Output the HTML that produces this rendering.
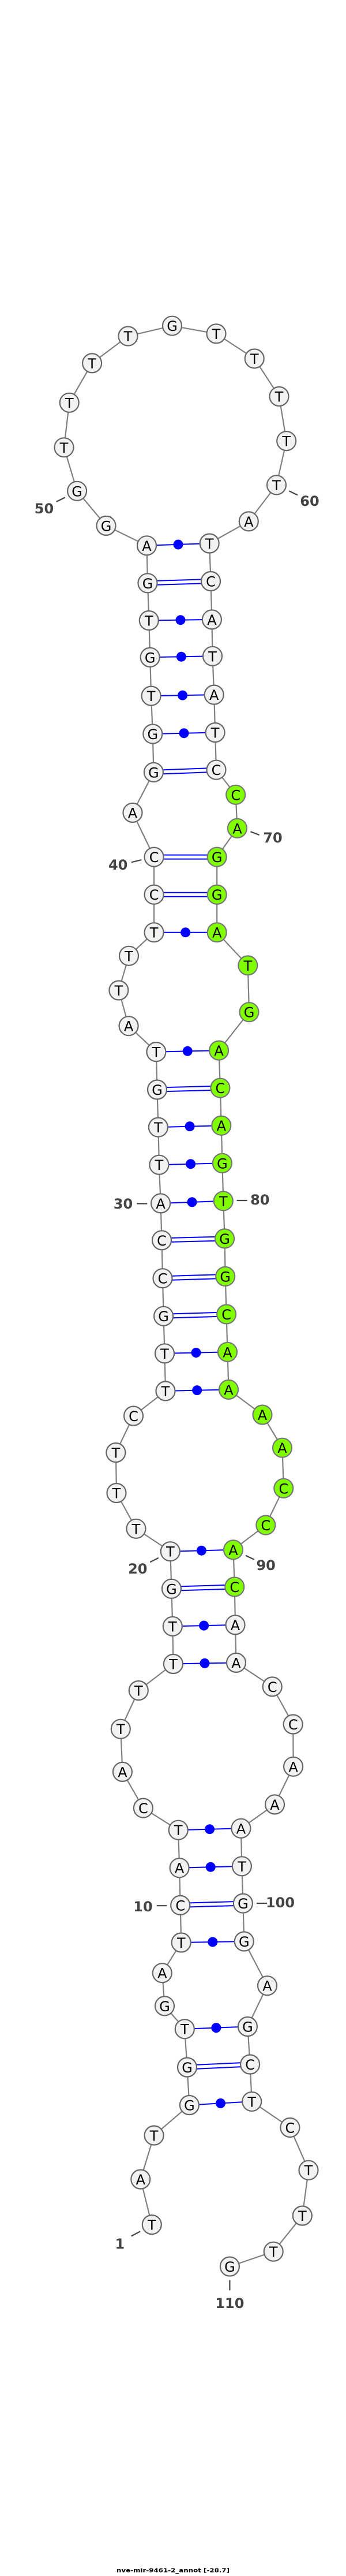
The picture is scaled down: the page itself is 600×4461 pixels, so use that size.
<!DOCTYPE html>
<html><head><meta charset="utf-8"><style>
html,body{margin:0;padding:0;background:#fff;}
svg{display:block;}
.n circle{fill:#f2f2f2;stroke:#666;stroke-width:2.2;}
.g circle{fill:#7fff00;stroke:#777;stroke-width:2.2;}
text.l{font-family:"DejaVu Sans","Liberation Sans",sans-serif;font-size:24px;text-anchor:middle;dominant-baseline:central;fill:#000;}
text.num{font-family:"DejaVu Sans","Liberation Sans",sans-serif;font-size:24px;font-weight:bold;text-anchor:middle;dominant-baseline:central;fill:#444;}
.bp{stroke:#0000ff;stroke-width:2;}
.tk{stroke:#444;stroke-width:2.2;}
</style></head><body>
<svg width="600" height="4461" viewBox="0 0 600 4461" xmlns="http://www.w3.org/2000/svg">
<polyline fill="none" stroke="#808080" stroke-width="2.2" points="263.3,3852.5 243.8,3774 267.1,3698 328.4,3645.5 324.5,3580 320.3,3513.7 285.5,3473.9 281.3,3416.7 314.2,3364 312.7,3299.4 311.1,3234.7 309.2,3169.2 248.4,3131.1 212.4,3068.4 209.3,2994.2 240.3,2927.5 300.4,2881.5 299.3,2816.4 297.4,2751.3 295.3,2686.7 236,2647.3 202,2585.5 200.9,2515.5 231.5,2452 287,2408.9 285.5,2343.8 283.6,2279.2 282,2213.7 280.5,2147.8 278.6,2083.9 275.9,2017.2 274.4,1952.1 272.5,1887 270.9,1821.6 223.1,1776.7 205.9,1715 223.5,1655.3 267.1,1614.7 267.1,1549.2 267.1,1484.1 230,1407.4 266.4,1337.4 264.8,1271 262.1,1205.1 260.2,1138.3 258.3,1074.5 256,1009.8 254.5,944.8 184,910.4 133.6,850.3 111,774.8 120.2,697.3 159.6,628.9 222,582.1 298.5,564.2 375,577.9 441.2,621 484,686.5 496.7,763.6 479.5,839.9 431.3,902.9 363.2,941 365.5,1006.5 367.4,1072.9 368.5,1136.3 371.2,1203.1 373.1,1268.5 375,1333.2 408.7,1376.3 411.4,1434.3 376.2,1484.1 376.2,1549.2 376.2,1614.7 429.8,1671.9 432,1752.7 379.6,1819.1 381.9,1884.1 383.8,1949.2 385.4,2014.3 387.3,2079.8 389.6,2144.9 390.7,2210.4 392.6,2275.9 394.5,2341.3 396.5,2406.4 455,2450 489.5,2507.2 491.8,2577.3 460.8,2641.1 404.5,2683.8 406.8,2748 408,2813.9 409.5,2879.4 472.2,2920.9 508.2,2986 508.6,3059.3 476.5,3124.9 417.9,3166.3 419.4,3231.8 421.4,3296.1 423.3,3362 463.5,3438.7 429.4,3509.5 433.6,3575 436.7,3639.3 502.9,3684.4 535,3758.2 524.3,3837 474.2,3899.2 398.4,3925"/>
<!-- base pairs: single with dot -->
<g class="bp" fill="#0000ff">
<line x1="254.5" y1="944.8" x2="363.2" y2="941"/><circle cx="309" cy="943" r="8.5" stroke="none"/>
<line x1="258.3" y1="1074.5" x2="367.4" y2="1072.9"/><circle cx="313" cy="1073.7" r="8.5" stroke="none"/>
<line x1="260.2" y1="1138.3" x2="368.5" y2="1136.3"/><circle cx="314.4" cy="1137.3" r="8.5" stroke="none"/>
<line x1="262.1" y1="1205.1" x2="371.2" y2="1203.1"/><circle cx="316.6" cy="1204.1" r="8.5" stroke="none"/>
<line x1="264.8" y1="1271" x2="373.1" y2="1268.5"/><circle cx="319" cy="1269.7" r="8.5" stroke="none"/>
<line x1="267.1" y1="1614.7" x2="376.2" y2="1614.7"/><circle cx="321.7" cy="1614.7" r="8.5" stroke="none"/>
<line x1="270.9" y1="1821.6" x2="379.6" y2="1819.1"/><circle cx="325.2" cy="1820.3" r="8.5" stroke="none"/>
<line x1="274.4" y1="1952.1" x2="383.8" y2="1949.2"/><circle cx="329.1" cy="1950.6" r="8.5" stroke="none"/>
<line x1="275.9" y1="2017.2" x2="385.4" y2="2014.3"/><circle cx="330.6" cy="2015.7" r="8.5" stroke="none"/>
<line x1="278.6" y1="2083.9" x2="387.3" y2="2079.8"/><circle cx="333" cy="2081.8" r="8.5" stroke="none"/>
<line x1="285.5" y1="2343.8" x2="394.5" y2="2341.3"/><circle cx="340" cy="2342.5" r="8.5" stroke="none"/>
<line x1="287" y1="2408.9" x2="396.5" y2="2406.4"/><circle cx="341.7" cy="2407.6" r="8.5" stroke="none"/>
<line x1="295.3" y1="2686.7" x2="404.5" y2="2683.8"/><circle cx="349.4" cy="2685.2" r="8.5" stroke="none"/>
<line x1="299.3" y1="2816.4" x2="408" y2="2813.9"/><circle cx="353.6" cy="2815.1" r="8.5" stroke="none"/>
<line x1="300.4" y1="2881.5" x2="409.5" y2="2879.4"/><circle cx="355" cy="2880.4" r="8.5" stroke="none"/>
<line x1="309.2" y1="3169.2" x2="417.9" y2="3166.3"/><circle cx="363.6" cy="3167.7" r="8.5" stroke="none"/>
<line x1="311.1" y1="3234.7" x2="419.4" y2="3231.8"/><circle cx="365.2" cy="3233.2" r="8.5" stroke="none"/>
<line x1="314.2" y1="3364" x2="423.3" y2="3362"/><circle cx="368.8" cy="3363" r="8.5" stroke="none"/>
<line x1="320.3" y1="3513.7" x2="429.4" y2="3509.5"/><circle cx="374.9" cy="3511.6" r="8.5" stroke="none"/>
<line x1="328.4" y1="3645.5" x2="436.7" y2="3639.3"/><circle cx="382.5" cy="3642.4" r="8.5" stroke="none"/>
</g>
<!-- double lines (GC) -->
<g class="bp">
<line x1="256" y1="1006.3" x2="365.5" y2="1003"/><line x1="256" y1="1013.3" x2="365.5" y2="1010"/>
<line x1="266.4" y1="1333.9" x2="375" y2="1329.7"/><line x1="266.4" y1="1340.9" x2="375" y2="1336.7"/>
<line x1="267.1" y1="1480.6" x2="376.2" y2="1480.6"/><line x1="267.1" y1="1487.6" x2="376.2" y2="1487.6"/>
<line x1="267.1" y1="1545.7" x2="376.2" y2="1545.7"/><line x1="267.1" y1="1552.7" x2="376.2" y2="1552.7"/>
<line x1="272.5" y1="1883.5" x2="381.9" y2="1880.6"/><line x1="272.5" y1="1890.5" x2="381.9" y2="1887.6"/>
<line x1="280.5" y1="2144.3" x2="389.6" y2="2141.4"/><line x1="280.5" y1="2151.3" x2="389.6" y2="2148.4"/>
<line x1="282" y1="2210.2" x2="390.7" y2="2206.9"/><line x1="282" y1="2217.2" x2="390.7" y2="2213.9"/>
<line x1="283.6" y1="2275.7" x2="392.6" y2="2272.4"/><line x1="283.6" y1="2282.7" x2="392.6" y2="2279.4"/>
<line x1="297.4" y1="2747.8" x2="406.8" y2="2744.5"/><line x1="297.4" y1="2754.8" x2="406.8" y2="2751.5"/>
<line x1="312.7" y1="3295.9" x2="421.4" y2="3292.6"/><line x1="312.7" y1="3302.9" x2="421.4" y2="3299.6"/>
<line x1="324.5" y1="3576.5" x2="433.6" y2="3571.5"/><line x1="324.5" y1="3583.5" x2="433.6" y2="3578.5"/>
</g>
<!-- ticks -->
<g class="tk">
<line x1="97.6" y1="868.9" x2="112.9" y2="861.4"/>
<line x1="501.3" y1="850.3" x2="515.9" y2="857.3"/>
<line x1="434.4" y1="1440.2" x2="449.7" y2="1446"/>
<line x1="228" y1="1493.2" x2="245.3" y2="1489.1"/>
<line x1="237.3" y1="2084.4" x2="255.3" y2="2084.4"/>
<line x1="410.6" y1="2079" x2="428.6" y2="2079"/>
<line x1="260.2" y1="2705.3" x2="274.8" y2="2697.9"/>
<line x1="426" y1="2693.7" x2="440.9" y2="2700.8"/>
<line x1="271.7" y1="3300.2" x2="289.3" y2="3300.2"/>
<line x1="445" y1="3296" x2="463" y2="3296"/>
<line x1="227.7" y1="3872.4" x2="243" y2="3864.3"/>
<line x1="398.4" y1="3948.6" x2="398.4" y2="3966.3"/>
</g>
<text class="num" x="76.5" y="881">50</text>
<text class="num" x="537" y="868">60</text>
<text class="num" x="473" y="1451">70</text>
<text class="num" x="204.7" y="1498">40</text>
<text class="num" x="213.5" y="2085">30</text>
<text class="num" x="450.8" y="2078">80</text>
<text class="num" x="238.8" y="2717">20</text>
<text class="num" x="461.2" y="2711">90</text>
<text class="num" x="248" y="3302">10</text>
<text class="num" x="486" y="3295">100</text>
<text class="num" x="207.8" y="3886">1</text>
<text class="num" x="398.4" y="3989">110</text>
<!-- nodes -->
<g class="n">
<circle cx="263.3" cy="3852.5" r="16.5"/><text class="l" x="263.3" y="3853.5">T</text>
<circle cx="243.8" cy="3774" r="16.5"/><text class="l" x="243.8" y="3775">A</text>
<circle cx="267.1" cy="3698" r="16.5"/><text class="l" x="267.1" y="3699">T</text>
<circle cx="328.4" cy="3645.5" r="16.5"/><text class="l" x="328.4" y="3646.5">G</text>
<circle cx="324.5" cy="3580" r="16.5"/><text class="l" x="324.5" y="3581">G</text>
<circle cx="320.3" cy="3513.7" r="16.5"/><text class="l" x="320.3" y="3514.7">T</text>
<circle cx="285.5" cy="3473.9" r="16.5"/><text class="l" x="285.5" y="3474.9">G</text>
<circle cx="281.3" cy="3416.7" r="16.5"/><text class="l" x="281.3" y="3417.7">A</text>
<circle cx="314.2" cy="3364" r="16.5"/><text class="l" x="314.2" y="3365">T</text>
<circle cx="312.7" cy="3299.4" r="16.5"/><text class="l" x="312.7" y="3300.4">C</text>
<circle cx="311.1" cy="3234.7" r="16.5"/><text class="l" x="311.1" y="3235.7">A</text>
<circle cx="309.2" cy="3169.2" r="16.5"/><text class="l" x="309.2" y="3170.2">T</text>
<circle cx="248.4" cy="3131.1" r="16.5"/><text class="l" x="248.4" y="3132.1">C</text>
<circle cx="212.4" cy="3068.4" r="16.5"/><text class="l" x="212.4" y="3069.4">A</text>
<circle cx="209.3" cy="2994.2" r="16.5"/><text class="l" x="209.3" y="2995.2">T</text>
<circle cx="240.3" cy="2927.5" r="16.5"/><text class="l" x="240.3" y="2928.5">T</text>
<circle cx="300.4" cy="2881.5" r="16.5"/><text class="l" x="300.4" y="2882.5">T</text>
<circle cx="299.3" cy="2816.4" r="16.5"/><text class="l" x="299.3" y="2817.4">T</text>
<circle cx="297.4" cy="2751.3" r="16.5"/><text class="l" x="297.4" y="2752.3">G</text>
<circle cx="295.3" cy="2686.7" r="16.5"/><text class="l" x="295.3" y="2687.7">T</text>
<circle cx="236" cy="2647.3" r="16.5"/><text class="l" x="236" y="2648.3">T</text>
<circle cx="202" cy="2585.5" r="16.5"/><text class="l" x="202" y="2586.5">T</text>
<circle cx="200.9" cy="2515.5" r="16.5"/><text class="l" x="200.9" y="2516.5">T</text>
<circle cx="231.5" cy="2452" r="16.5"/><text class="l" x="231.5" y="2453">C</text>
<circle cx="287" cy="2408.9" r="16.5"/><text class="l" x="287" y="2409.9">T</text>
<circle cx="285.5" cy="2343.8" r="16.5"/><text class="l" x="285.5" y="2344.8">T</text>
<circle cx="283.6" cy="2279.2" r="16.5"/><text class="l" x="283.6" y="2280.2">G</text>
<circle cx="282" cy="2213.7" r="16.5"/><text class="l" x="282" y="2214.7">C</text>
<circle cx="280.5" cy="2147.8" r="16.5"/><text class="l" x="280.5" y="2148.8">C</text>
<circle cx="278.6" cy="2083.9" r="16.5"/><text class="l" x="278.6" y="2084.9">A</text>
<circle cx="275.9" cy="2017.2" r="16.5"/><text class="l" x="275.9" y="2018.2">T</text>
<circle cx="274.4" cy="1952.1" r="16.5"/><text class="l" x="274.4" y="1953.1">T</text>
<circle cx="272.5" cy="1887" r="16.5"/><text class="l" x="272.5" y="1888">G</text>
<circle cx="270.9" cy="1821.6" r="16.5"/><text class="l" x="270.9" y="1822.6">T</text>
<circle cx="223.1" cy="1776.7" r="16.5"/><text class="l" x="223.1" y="1777.7">A</text>
<circle cx="205.9" cy="1715" r="16.5"/><text class="l" x="205.9" y="1716">T</text>
<circle cx="223.5" cy="1655.3" r="16.5"/><text class="l" x="223.5" y="1656.3">T</text>
<circle cx="267.1" cy="1614.7" r="16.5"/><text class="l" x="267.1" y="1615.7">T</text>
<circle cx="267.1" cy="1549.2" r="16.5"/><text class="l" x="267.1" y="1550.2">C</text>
<circle cx="267.1" cy="1484.1" r="16.5"/><text class="l" x="267.1" y="1485.1">C</text>
<circle cx="230" cy="1407.4" r="16.5"/><text class="l" x="230" y="1408.4">A</text>
<circle cx="266.4" cy="1337.4" r="16.5"/><text class="l" x="266.4" y="1338.4">G</text>
<circle cx="264.8" cy="1271" r="16.5"/><text class="l" x="264.8" y="1272">G</text>
<circle cx="262.1" cy="1205.1" r="16.5"/><text class="l" x="262.1" y="1206.1">T</text>
<circle cx="260.2" cy="1138.3" r="16.5"/><text class="l" x="260.2" y="1139.3">G</text>
<circle cx="258.3" cy="1074.5" r="16.5"/><text class="l" x="258.3" y="1075.5">T</text>
<circle cx="256" cy="1009.8" r="16.5"/><text class="l" x="256" y="1010.8">G</text>
<circle cx="254.5" cy="944.8" r="16.5"/><text class="l" x="254.5" y="945.8">A</text>
<circle cx="184" cy="910.4" r="16.5"/><text class="l" x="184" y="911.4">G</text>
<circle cx="133.6" cy="850.3" r="16.5"/><text class="l" x="133.6" y="851.3">G</text>
<circle cx="111" cy="774.8" r="16.5"/><text class="l" x="111" y="775.8">T</text>
<circle cx="120.2" cy="697.3" r="16.5"/><text class="l" x="120.2" y="698.3">T</text>
<circle cx="159.6" cy="628.9" r="16.5"/><text class="l" x="159.6" y="629.9">T</text>
<circle cx="222" cy="582.1" r="16.5"/><text class="l" x="222" y="583.1">T</text>
<circle cx="298.5" cy="564.2" r="16.5"/><text class="l" x="298.5" y="565.2">G</text>
<circle cx="375" cy="577.9" r="16.5"/><text class="l" x="375" y="578.9">T</text>
<circle cx="441.2" cy="621" r="16.5"/><text class="l" x="441.2" y="622">T</text>
<circle cx="484" cy="686.5" r="16.5"/><text class="l" x="484" y="687.5">T</text>
<circle cx="496.7" cy="763.6" r="16.5"/><text class="l" x="496.7" y="764.6">T</text>
<circle cx="479.5" cy="839.9" r="16.5"/><text class="l" x="479.5" y="840.9">T</text>
<circle cx="431.3" cy="902.9" r="16.5"/><text class="l" x="431.3" y="903.9">A</text>
<circle cx="363.2" cy="941" r="16.5"/><text class="l" x="363.2" y="942">T</text>
<circle cx="365.5" cy="1006.5" r="16.5"/><text class="l" x="365.5" y="1007.5">C</text>
<circle cx="367.4" cy="1072.9" r="16.5"/><text class="l" x="367.4" y="1073.9">A</text>
<circle cx="368.5" cy="1136.3" r="16.5"/><text class="l" x="368.5" y="1137.3">T</text>
<circle cx="371.2" cy="1203.1" r="16.5"/><text class="l" x="371.2" y="1204.1">A</text>
<circle cx="373.1" cy="1268.5" r="16.5"/><text class="l" x="373.1" y="1269.5">T</text>
<circle cx="375" cy="1333.2" r="16.5"/><text class="l" x="375" y="1334.2">C</text>
</g>
<g class="g">
<circle cx="408.7" cy="1376.3" r="16.5"/><text class="l" x="408.7" y="1377.3">C</text>
<circle cx="411.4" cy="1434.3" r="16.5"/><text class="l" x="411.4" y="1435.3">A</text>
<circle cx="376.2" cy="1484.1" r="16.5"/><text class="l" x="376.2" y="1485.1">G</text>
<circle cx="376.2" cy="1549.2" r="16.5"/><text class="l" x="376.2" y="1550.2">G</text>
<circle cx="376.2" cy="1614.7" r="16.5"/><text class="l" x="376.2" y="1615.7">A</text>
<circle cx="429.8" cy="1671.9" r="16.5"/><text class="l" x="429.8" y="1672.9">T</text>
<circle cx="432" cy="1752.7" r="16.5"/><text class="l" x="432" y="1753.7">G</text>
<circle cx="379.6" cy="1819.1" r="16.5"/><text class="l" x="379.6" y="1820.1">A</text>
<circle cx="381.9" cy="1884.1" r="16.5"/><text class="l" x="381.9" y="1885.1">C</text>
<circle cx="383.8" cy="1949.2" r="16.5"/><text class="l" x="383.8" y="1950.2">A</text>
<circle cx="385.4" cy="2014.3" r="16.5"/><text class="l" x="385.4" y="2015.3">G</text>
<circle cx="387.3" cy="2079.8" r="16.5"/><text class="l" x="387.3" y="2080.8">T</text>
<circle cx="389.6" cy="2144.9" r="16.5"/><text class="l" x="389.6" y="2145.9">G</text>
<circle cx="390.7" cy="2210.4" r="16.5"/><text class="l" x="390.7" y="2211.4">G</text>
<circle cx="392.6" cy="2275.9" r="16.5"/><text class="l" x="392.6" y="2276.9">C</text>
<circle cx="394.5" cy="2341.3" r="16.5"/><text class="l" x="394.5" y="2342.3">A</text>
<circle cx="396.5" cy="2406.4" r="16.5"/><text class="l" x="396.5" y="2407.4">A</text>
<circle cx="455" cy="2450" r="16.5"/><text class="l" x="455" y="2451">A</text>
<circle cx="489.5" cy="2507.2" r="16.5"/><text class="l" x="489.5" y="2508.2">A</text>
<circle cx="491.8" cy="2577.3" r="16.5"/><text class="l" x="491.8" y="2578.3">C</text>
<circle cx="460.8" cy="2641.1" r="16.5"/><text class="l" x="460.8" y="2642.1">C</text>
<circle cx="404.5" cy="2683.8" r="16.5"/><text class="l" x="404.5" y="2684.8">A</text>
<circle cx="406.8" cy="2748" r="16.5"/><text class="l" x="406.8" y="2749">C</text>
</g>
<g class="n">
<circle cx="408" cy="2813.9" r="16.5"/><text class="l" x="408" y="2814.9">A</text>
<circle cx="409.5" cy="2879.4" r="16.5"/><text class="l" x="409.5" y="2880.4">A</text>
<circle cx="472.2" cy="2920.9" r="16.5"/><text class="l" x="472.2" y="2921.9">C</text>
<circle cx="508.2" cy="2986" r="16.5"/><text class="l" x="508.2" y="2987">C</text>
<circle cx="508.6" cy="3059.3" r="16.5"/><text class="l" x="508.6" y="3060.3">A</text>
<circle cx="476.5" cy="3124.9" r="16.5"/><text class="l" x="476.5" y="3125.9">A</text>
<circle cx="417.9" cy="3166.3" r="16.5"/><text class="l" x="417.9" y="3167.3">A</text>
<circle cx="419.4" cy="3231.8" r="16.5"/><text class="l" x="419.4" y="3232.8">T</text>
<circle cx="421.4" cy="3296.1" r="16.5"/><text class="l" x="421.4" y="3297.1">G</text>
<circle cx="423.3" cy="3362" r="16.5"/><text class="l" x="423.3" y="3363">G</text>
<circle cx="463.5" cy="3438.7" r="16.5"/><text class="l" x="463.5" y="3439.7">A</text>
<circle cx="429.4" cy="3509.5" r="16.5"/><text class="l" x="429.4" y="3510.5">G</text>
<circle cx="433.6" cy="3575" r="16.5"/><text class="l" x="433.6" y="3576">C</text>
<circle cx="436.7" cy="3639.3" r="16.5"/><text class="l" x="436.7" y="3640.3">T</text>
<circle cx="502.9" cy="3684.4" r="16.5"/><text class="l" x="502.9" y="3685.4">C</text>
<circle cx="535" cy="3758.2" r="16.5"/><text class="l" x="535" y="3759.2">T</text>
<circle cx="524.3" cy="3837" r="16.5"/><text class="l" x="524.3" y="3838">T</text>
<circle cx="474.2" cy="3899.2" r="16.5"/><text class="l" x="474.2" y="3900.2">T</text>
<circle cx="398.4" cy="3925" r="16.5"/><text class="l" x="398.4" y="3926">G</text>
</g>
<text x="300" y="4452" font-family="DejaVu Sans, Liberation Sans, sans-serif" font-size="10" font-weight="bold" text-anchor="middle" dominant-baseline="central" fill="#000" textLength="196" lengthAdjust="spacingAndGlyphs">nve-mir-9461-2_annot [-28.7]</text>
</svg>
</body></html>
